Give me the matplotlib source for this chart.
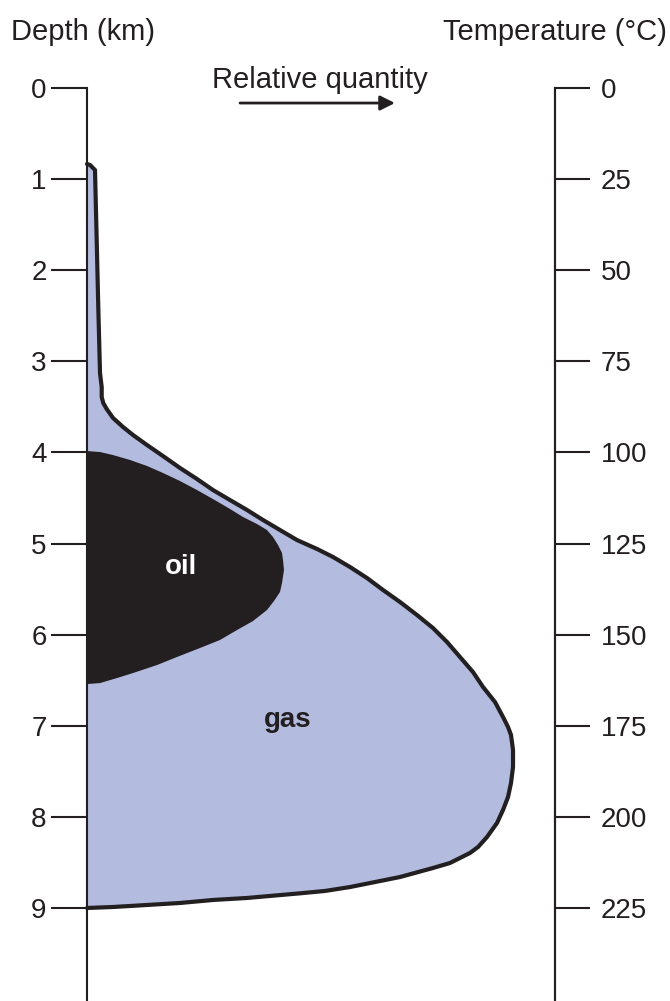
import matplotlib
matplotlib.use('Agg')
import matplotlib.pyplot as plt

plt.rcParams['font.family'] = ['Liberation Sans', 'DejaVu Sans']

# relative quantity (0 = left axis, 1 = right axis) vs depth (km)
gas_q = [0.0, 0.0064, 0.0171, 0.0207, 0.0241, 0.0278, 0.0314, 0.0314, 0.0348, 0.0421,
         0.0556, 0.0769, 0.0983, 0.1282, 0.1624, 0.1987, 0.2350, 0.2692, 0.3056, 0.3419,
         0.3761, 0.4124, 0.4487, 0.4915, 0.5256, 0.5620, 0.5983, 0.6325, 0.6688, 0.7051,
         0.7393, 0.7692, 0.7970, 0.8248, 0.8462, 0.8718, 0.8889, 0.8996, 0.9060, 0.9103,
         0.9103, 0.9060, 0.8996, 0.8889, 0.8761, 0.8547, 0.8355, 0.8184, 0.7756, 0.7393,
         0.6688, 0.6154, 0.5620, 0.5085, 0.4551, 0.3419, 0.2692, 0.1987, 0.1282, 0.0556,
         0.0]
gas_depth = [0.834, 0.845, 0.900, 1.668, 2.404, 3.128, 3.282, 3.392, 3.458, 3.524,
             3.622, 3.721, 3.809, 3.919, 4.040, 4.171, 4.292, 4.413, 4.523, 4.632,
             4.742, 4.852, 4.962, 5.060, 5.148, 5.258, 5.379, 5.510, 5.642, 5.785,
             5.928, 6.081, 6.246, 6.411, 6.575, 6.740, 6.904, 7.014, 7.102, 7.267,
             7.453, 7.629, 7.783, 7.925, 8.068, 8.222, 8.332, 8.397, 8.507, 8.562,
             8.661, 8.716, 8.771, 8.814, 8.840, 8.891, 8.913, 8.946, 8.968, 8.990,
             9.001]

oil_q = [0.0, 0.0278, 0.0556, 0.0919, 0.1282, 0.1624, 0.1987, 0.2350, 0.2692, 0.3056,
         0.3333, 0.3632, 0.3846, 0.3974, 0.4081, 0.4167, 0.4188, 0.4209, 0.4167, 0.4124,
         0.3996, 0.3846, 0.3547, 0.3205, 0.2842, 0.2415, 0.1923, 0.1496, 0.0983, 0.0641,
         0.0278, 0.0021, 0.0]
oil_depth = [3.985, 3.996, 4.029, 4.083, 4.149, 4.226, 4.314, 4.413, 4.512, 4.621,
             4.709, 4.786, 4.852, 4.929, 5.016, 5.104, 5.181, 5.291, 5.434, 5.532,
             5.631, 5.730, 5.851, 5.950, 6.059, 6.147, 6.246, 6.334, 6.422, 6.477,
             6.532, 6.542, 6.542]

depth_ticks = list(range(0, 10))
temp_ticks = list(range(0, 226, 25))

DARK = '#231f20'
GAS = '#b3bbdf'

fig = plt.figure(figsize=(6.7, 10.01), dpi=100)
ax = fig.add_axes([87 / 670, 0, 468 / 670, 913 / 1001])
ymax = 913 / 91.1
ax.set_xlim(0, 1)
ax.set_ylim(ymax, 0)

ax.fill(gas_q, gas_depth, color=GAS, lw=0, zorder=1)
ax.fill(oil_q, oil_depth, color=DARK, lw=0, zorder=2)
ax.plot(gas_q, gas_depth, color=DARK, lw=3, solid_joinstyle='round',
        solid_capstyle='round', zorder=3, clip_on=False)

ax.text(0.2009, 5.258, 'oil', color='white', fontsize=20, fontweight='bold',
        ha='center', va='center', zorder=4)
ax.text(0.4295, 6.937, 'gas', color=DARK, fontsize=20, fontweight='bold',
        ha='center', va='center', zorder=4)

for s in ['top', 'bottom']:
    ax.spines[s].set_visible(False)
for s in ['left', 'right']:
    ax.spines[s].set_color(DARK)
    ax.spines[s].set_linewidth(1.5)
ax.set_xticks([])
ax.set_yticks(depth_ticks)
ax.tick_params(axis='y', direction='out', length=26, width=1.5, color=DARK,
               labelsize=20, labelcolor=DARK, pad=3)

ax2 = ax.twinx()
ax2.set_ylim(ymax * 25, 0)
ax2.set_yticks(temp_ticks)
for s in ['top', 'bottom', 'left']:
    ax2.spines[s].set_visible(False)
ax2.spines['right'].set_color(DARK)
ax2.spines['right'].set_linewidth(1.5)
ax2.tick_params(axis='y', direction='out', length=25, width=1.5, color=DARK,
                labelsize=20, labelcolor=DARK, pad=8)

ax.annotate('', xy=(0.658, 0.165), xytext=(0.327, 0.165),
            arrowprops=dict(arrowstyle='-|>', lw=2, color=DARK, mutation_scale=22,
                            shrinkA=0, shrinkB=0),
            annotation_clip=False)
ax.text(0.498, -0.088, 'Relative quantity', fontsize=21, color=DARK,
        ha='center', va='center', clip_on=False)

fig.text(83 / 670, 1 - 32 / 1001, 'Depth (km)', fontsize=21, color=DARK,
         ha='center', va='center')
fig.text(555 / 670, 1 - 32 / 1001, 'Temperature (°C)', fontsize=21, color=DARK,
         ha='center', va='center')

fig.savefig('out.png', dpi=100)
